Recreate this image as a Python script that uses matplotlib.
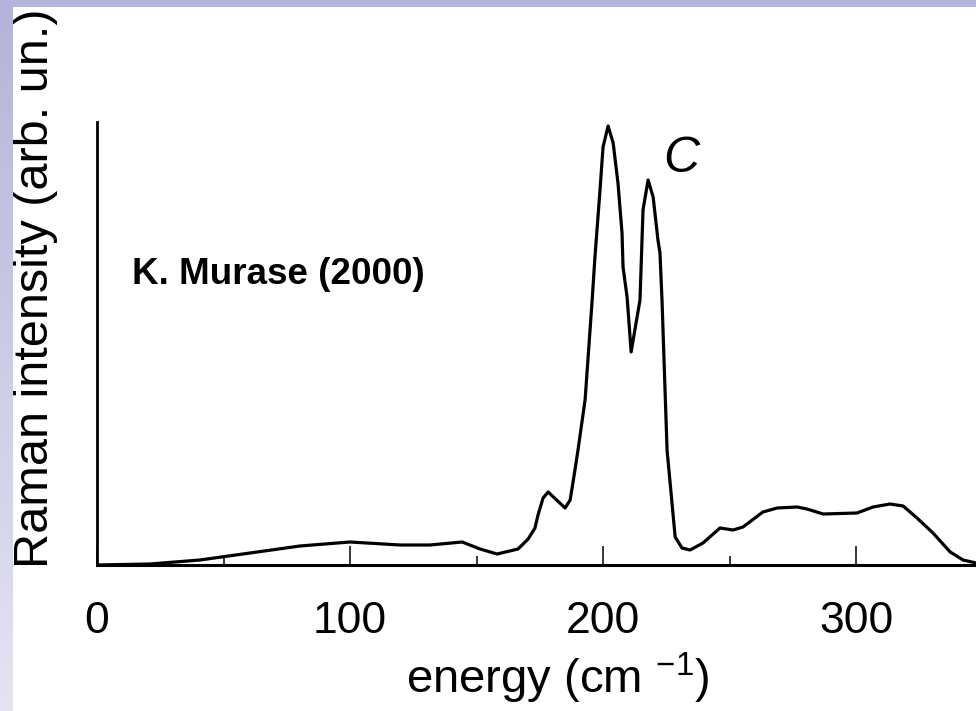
import matplotlib
matplotlib.use("Agg")
import matplotlib.pyplot as plt
from matplotlib.patches import Rectangle
from matplotlib.colors import LinearSegmentedColormap
import numpy as np

plt.rcParams['font.family'] = ['Liberation Sans', 'DejaVu Sans']
plt.rcParams['mathtext.fontset'] = 'custom'
plt.rcParams['mathtext.rm'] = 'Liberation Sans'
plt.rcParams['mathtext.it'] = 'Liberation Sans:italic'

# Data (energy in cm^-1, intensity in arbitrary units)
energy = [0, 20.9, 40.7, 60.5, 80.2, 100, 119.8, 131.6, 144.3, 151.4, 158.1,
          166.4, 170.4, 173.1, 174.3, 176.3, 178.3, 185, 187, 188.9, 190.1,
          192.9, 195.7, 196.8, 198.8, 200, 202, 204, 205.9, 207.5, 207.9,
          209.5, 211.1, 214.6, 215.8, 217.8, 219.8, 221.7, 222.5, 223.3,
          225.3, 228.5, 231.2, 234.4, 239.5, 246.2, 251.4, 255.3, 263.2,
          268.8, 276.7, 280.6, 287, 300.4, 306.7, 313.4, 318.6, 324.1,
          330.4, 337.2, 342.3, 347.4]
intensity = [0, 1, 5, 12, 19, 23, 20, 20, 23, 16, 11,
             16, 26, 37, 50, 67, 73, 57, 65, 95, 115,
             165, 265, 308, 375, 418, 439, 422, 382, 332, 298,
             268, 213, 265, 355, 385, 368, 325, 312, 265,
             115, 28, 17, 15, 22, 37, 35, 38, 53,
             57, 58, 56, 51, 52, 58, 61, 59, 47,
             32, 13, 5, 2]

major_ticks = [0, 100, 200, 300]
minor_ticks = [50, 150, 250]
tick_labels = ['0', '100', '200', '300']

W, H = 976, 711
fig = plt.figure(figsize=(W / 100, H / 100), dpi=100)
fig.patch.set_facecolor('white')

ax = fig.add_axes([97 / W, (H - 565) / H, (W - 97) / W, (565 - 122) / H])
ax.plot(energy, intensity, color='black', lw=2.3, solid_joinstyle='round')
ax.set_xlim(0, 347.4)
ax.set_ylim(0, 443)
ax.spines['top'].set_visible(False)
ax.spines['right'].set_visible(False)
ax.spines['left'].set_linewidth(2.0)
ax.spines['bottom'].set_linewidth(2.2)
ax.set_yticks([])
ax.set_xticks(major_ticks)
ax.set_xticklabels(tick_labels)
ax.set_xticks(minor_ticks, minor=True)
ax.tick_params(axis='x', which='major', direction='in', length=13.7, width=1.1,
               labelsize=32, pad=26)
ax.tick_params(axis='x', which='minor', direction='in', length=6.5, width=1.1)

fig.text(132 / W, (H - 284) / H, 'K. Murase (2000)',
         fontsize=26.5, fontweight='bold', ha='left', va='baseline')
fig.text(663 / W, (H - 172) / H, 'C', fontsize=36, style='italic',
         ha='left', va='baseline')

fig.text(558 / W, (H - 693) / H, r'energy (cm $^{-1}$)', fontsize=34,
         ha='center', va='baseline')
fig.text(48 / W, (H - 288) / H, 'Raman intensity (arb. un.)', fontsize=35,
         rotation=90, rotation_mode='anchor', ha='center', va='baseline')

# decorative slide bands
fig.add_artist(Rectangle((0, (H - 7) / H), 1, 7 / H, transform=fig.transFigure,
                         facecolor='#b4b4da', edgecolor='none', zorder=10))
grad = np.linspace(0, 1, 256).reshape(-1, 1)
cmap = LinearSegmentedColormap.from_list('band', ['#e4e4f2', '#b4b4da'])
bax = fig.add_axes([0, 0, 13 / W, (H - 7) / H], zorder=10)
bax.imshow(grad, aspect='auto', cmap=cmap, origin='lower', extent=[0, 1, 0, 1])
bax.axis('off')

fig.savefig('out.png', dpi=100)
